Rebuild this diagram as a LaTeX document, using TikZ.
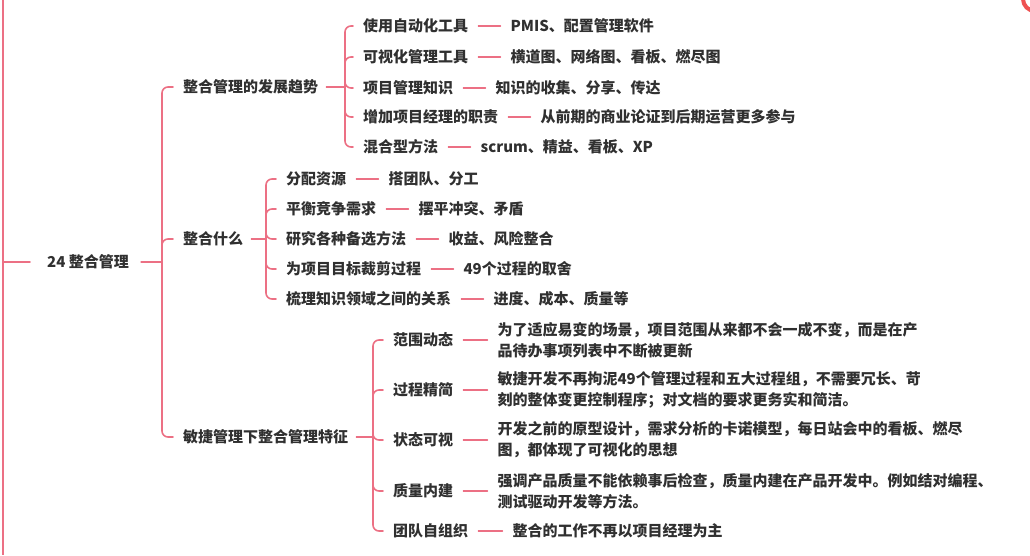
\documentclass[tikz,border=0pt]{standalone}
\usepackage{fontspec}
\setmainfont{Noto Sans CJK SC}
\usepackage{xcolor}
\usepackage{tikz}
\usetikzlibrary{positioning}

\definecolor{ink}{RGB}{48,48,48}
\definecolor{rose}{RGB}{236,112,132}
\definecolor{dot}{RGB}{238,82,82}

\begin{document}
\begin{tikzpicture}[x=1pt, y=-1pt, node distance=42pt,
  font=\bfseries\fontsize{15}{21}\selectfont,
  topic/.style={anchor=west, inner sep=0pt, text=ink},
  note/.style={topic, align=left},
  link/.style={draw=rose, line width=1.6pt, rounded corners=6pt, line cap=round}]
\useasboundingbox (0,0) rectangle (1030,555);
\clip (0,0) rectangle (1030,555);
\draw[dot, line width=4pt] (1035,-1) circle (12);
\draw[rose, line width=2.6pt] (3,0) -- (3,555);
\node[topic] (root) at (47,262) {24 整合管理};
\node[topic] (trend) at (183,87) {整合管理的发展趋势};
\node[topic] (what) at (183,239) {整合什么};
\node[topic] (agile) at (183,437) {敏捷管理下整合管理特征};
\node[topic] (auto) at (363,26) {使用自动化工具};
\node[topic] (visual) at (363,57) {可视化管理工具};
\node[topic] (know) at (363,88) {项目管理知识};
\node[topic] (duty) at (363,117) {增加项目经理的职责};
\node[topic] (mixed) at (363,147) {混合型方法};
\node[topic, right=of auto] (pmis) {PMIS、配置管理软件};
\node[topic, right=of visual] (charts) {横道图、网络图、看板、燃尽图};
\node[topic, right=of know] (share) {知识的收集、分享、传达};
\node[topic, right=of duty] (cycle) {从前期的商业论证到后期运营更多参与};
\node[topic, right=of mixed] (scrum) {scrum、精益、看板、XP};
\node[topic] (alloc) at (286,179) {分配资源};
\node[topic] (balance) at (286,209) {平衡竞争需求};
\node[topic] (options) at (286,239) {研究各种备选方法};
\node[topic] (tailor) at (286,269) {为项目目标裁剪过程};
\node[topic] (relate) at (286,299) {梳理知识领域之间的关系};
\node[topic, right=of alloc] (crew) {搭团队、分工};
\node[topic, right=of balance] (settle) {摆平冲突、矛盾};
\node[topic, right=of options] (gain) {收益、风险整合};
\node[topic, right=of tailor] (pick) {49个过程的取舍};
\node[topic, right=of relate] (areas) {进度、成本、质量等};
\node[topic] (scope) at (393,340) {范围动态};
\node[topic] (lean) at (393,390) {过程精简};
\node[topic] (show) at (393,440) {状态可视};
\node[topic] (quality) at (393,491) {质量内建};
\node[topic] (team) at (393,531) {团队自组织};
\node[note, right=44pt of scope] (scopeN) {为了适应易变的场景，项目范围从来都不会一成不变，而是在产\\品待办事项列表中不断被更新};
\node[note, right=44pt of lean] (leanN) {敏捷开发不再拘泥49个管理过程和五大过程组，不需要冗长、苛\\刻的整体变更控制程序；对文档的要求更务实和简洁。};
\node[note, right=44pt of show] (showN) {开发之前的原型设计，需求分析的卡诺模型，每日站会中的看板、燃尽\\图，都体现了可视化的思想};
\node[note, right=44pt of quality] (qualityN) {强调产品质量不能依赖事后检查，质量内建在产品开发中。例如结对编程、\\测试驱动开发等方法。};
\node[topic, right=44pt of team] (teamN) {整合的工作不再以项目经理为主};
\coordinate (edge) at (3,262);
\coordinate (j0) at (162,262);
\coordinate (j1) at (345,87);
\coordinate (j2) at (266,239);
\coordinate (j3) at (373,437);
\draw[link] (edge) -- ([xshift=-17pt]root.west); \draw[link] ([xshift=12pt]root.east) -- (j0);
\draw[link] (j0) |- ([xshift=-10pt]trend.west); \draw[link] (j0) |- ([xshift=-10pt]what.west); \draw[link] (j0) |- ([xshift=-10pt]agile.west);
\draw[link] ([xshift=8pt]trend.east) -- (j1);
\draw[link] (j1) |- ([xshift=-10pt]auto.west); \draw[link] (j1) |- ([xshift=-10pt]visual.west); \draw[link] (j1) |- ([xshift=-10pt]know.west);
\draw[link] (j1) |- ([xshift=-10pt]duty.west); \draw[link] (j1) |- ([xshift=-10pt]mixed.west);
\draw[link] ([xshift=10pt]auto.east) -- ([xshift=-10pt]pmis.west); \draw[link] ([xshift=10pt]visual.east) -- ([xshift=-10pt]charts.west);
\draw[link] ([xshift=10pt]know.east) -- ([xshift=-10pt]share.west); \draw[link] ([xshift=10pt]duty.east) -- ([xshift=-10pt]cycle.west);
\draw[link] ([xshift=10pt]mixed.east) -- ([xshift=-10pt]scrum.west);
\draw[link] ([xshift=8pt]what.east) -- (j2);
\draw[link] (j2) |- ([xshift=-10pt]alloc.west); \draw[link] (j2) |- ([xshift=-10pt]balance.west); \draw[link] (j2) |- ([xshift=-10pt]options.west);
\draw[link] (j2) |- ([xshift=-10pt]tailor.west); \draw[link] (j2) |- ([xshift=-10pt]relate.west);
\draw[link] ([xshift=10pt]alloc.east) -- ([xshift=-10pt]crew.west); \draw[link] ([xshift=10pt]balance.east) -- ([xshift=-10pt]settle.west);
\draw[link] ([xshift=10pt]options.east) -- ([xshift=-10pt]gain.west); \draw[link] ([xshift=10pt]tailor.east) -- ([xshift=-10pt]pick.west);
\draw[link] ([xshift=10pt]relate.east) -- ([xshift=-10pt]areas.west);
\draw[link] ([xshift=8pt]agile.east) -- (j3);
\draw[link] (j3) |- ([xshift=-10pt]scope.west); \draw[link] (j3) |- ([xshift=-10pt]lean.west); \draw[link] (j3) |- ([xshift=-10pt]show.west);
\draw[link] (j3) |- ([xshift=-10pt]quality.west); \draw[link] (j3) |- ([xshift=-10pt]team.west);
\draw[link] ([xshift=10pt]scope.east) -- ([xshift=-10pt]scopeN.west); \draw[link] ([xshift=10pt]lean.east) -- ([xshift=-10pt]leanN.west);
\draw[link] ([xshift=10pt]show.east) -- ([xshift=-10pt]showN.west); \draw[link] ([xshift=10pt]quality.east) -- ([xshift=-10pt]qualityN.west);
\draw[link] ([xshift=10pt]team.east) -- ([xshift=-10pt]teamN.west);
\end{tikzpicture}
\end{document}
